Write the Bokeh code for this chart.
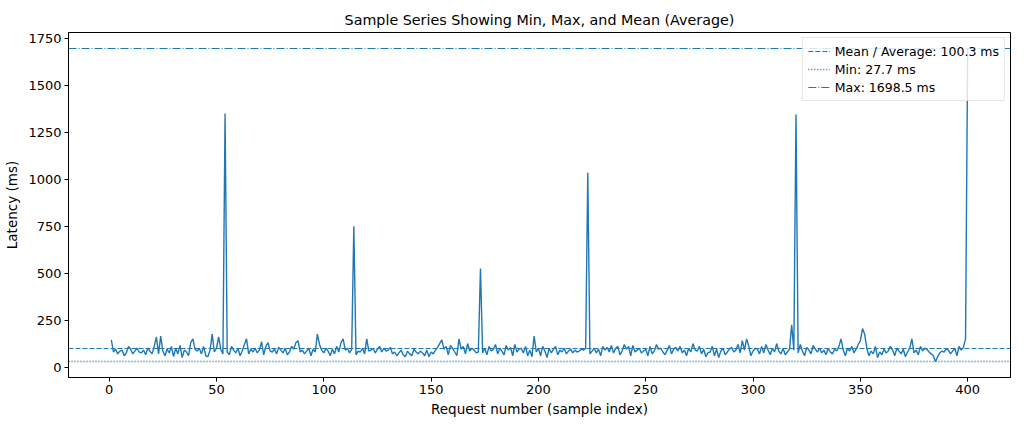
import numpy as np
from bokeh.plotting import figure
from bokeh.models import Range1d, FixedTicker
from bokeh.embed import file_html
from bokeh.resources import INLINE

latency_ms = [
    145, 80, 95, 70, 85, 90, 60, 75, 110, 95, 70, 85, 100, 80, 75, 90, 65, 100, 85, 70,
    110, 160, 70, 165, 85, 60, 95, 75, 110, 55, 100, 70, 115, 50, 90, 80, 60, 130, 150, 95,
    85, 100, 70, 110, 60, 55, 90, 175, 80, 100, 160, 95, 70, 1350, 80, 65, 110, 90, 75, 100,
    60, 85, 120, 150, 70, 95, 80, 100, 75, 90, 135, 65, 110, 130, 85, 80, 95, 70, 105, 90,
    75, 100, 65, 80, 110, 95, 130, 140, 80, 90, 70, 85, 100, 60, 95, 80, 175, 120, 90, 75,
    100, 85, 60, 95, 70, 110, 80, 130, 150, 90, 100, 75, 95, 750, 65, 85, 80, 100, 70, 150,
    85, 90, 100, 75, 95, 110, 80, 100, 85, 90, 105, 70, 80, 60, 75, 90, 65, 55, 85, 70,
    60, 95, 80, 70, 85, 75, 60, 90, 55, 80, 70, 90, 105, 125, 145, 95, 110, 65, 115, 100,
    80, 60, 150, 95, 110, 70, 125, 85, 100, 90, 75, 80, 525, 75, 100, 65, 110, 85, 95, 120,
    70, 100, 85, 65, 115, 90, 105, 60, 120, 80, 95, 100, 75, 110, 60, 90, 55, 165, 80, 100,
    60, 110, 85, 50, 100, 75, 95, 110, 65, 90, 80, 100, 70, 85, 95, 75, 90, 80, 85, 95,
    90, 100, 1035, 70, 85, 100, 75, 95, 60, 110, 90, 105, 80, 115, 75, 100, 110, 65, 85, 120,
    95, 110, 60, 115, 80, 90, 100, 75, 85, 95, 60, 110, 70, 85, 120, 95, 100, 80, 65, 90,
    115, 70, 95, 105, 85, 110, 75, 90, 60, 100, 80, 125, 90, 85, 110, 70, 95, 55, 75, 80,
    110, 60, 95, 50, 85, 100, 65, 80, 95, 105, 80, 90, 120, 75, 140, 90, 150, 110, 60, 85,
    100, 95, 70, 110, 75, 120, 90, 65, 100, 80, 125, 85, 70, 100, 65, 80, 95, 225, 90, 1345,
    75, 120, 85, 60, 105, 90, 70, 115, 95, 80, 100, 75, 90, 65, 100, 80, 70, 95, 85, 110,
    150, 90, 60, 100, 85, 110, 75, 95, 120, 140, 205, 175, 100, 60, 85, 70, 110, 50, 80, 65,
    95, 75, 85, 110, 90, 60, 100, 85, 70, 95, 55, 80, 100, 150, 75, 90, 65, 110, 85, 100,
    95, 80, 70, 60, 27.7, 55, 75, 85, 80, 95, 90, 70, 85, 100, 60, 110, 90, 105, 150, 1698.5,
]
sample_index = list(range(1, len(latency_ms) + 1))

mean_ms = [100.3]
min_ms = [27.7]
max_ms = [1698.5]

x_ticks = [0, 50, 100, 150, 200, 250, 300, 350, 400]
y_ticks = [0, 250, 500, 750, 1000, 1250, 1500, 1750]

COLOR = "#1f77b4"
FONT = "DejaVu Sans"

xs = np.array(sample_index, dtype=float)
ys = np.array(latency_ms, dtype=float)
xpad = (xs.max() - xs.min()) * 0.05
ypad = (ys.max() - ys.min()) * 0.05

p = figure(width=1016, height=419, output_backend="svg", toolbar_location=None,
           title="Sample Series Showing Min, Max, and Mean (Average)",
           x_range=Range1d(xs.min() - xpad, xs.max() + xpad),
           y_range=Range1d(ys.min() - ypad, ys.max() + ypad),
           min_border_left=68, min_border_right=6, min_border_top=32, min_border_bottom=42)

p.line(sample_index, latency_ms, line_color=COLOR, line_width=1.4)
p.hspan(y=mean_ms, line_color=COLOR, line_width=1.1, line_dash="5 2", legend_label="Mean / Average: 100.3 ms")
p.hspan(y=min_ms, line_color=COLOR, line_width=1.3, line_dash="1 2", legend_label="Min: 27.7 ms")
p.hspan(y=max_ms, line_color=COLOR, line_width=1.1, line_dash="8 2 1 2", legend_label="Max: 1698.5 ms")

p.title.align = "center"
p.title.text_font = FONT
p.title.text_font_size = "14.3px"
p.title.text_font_style = "normal"
p.title.text_color = "black"

p.xgrid.visible = False
p.ygrid.visible = False
p.outline_line_color = "black"
p.outline_line_width = 1

p.xaxis.ticker = FixedTicker(ticks=x_ticks)
p.yaxis.ticker = FixedTicker(ticks=y_ticks)
p.xaxis.axis_label = "Request number (sample index)"
p.yaxis.axis_label = "Latency (ms)"
for ax in (p.xaxis, p.yaxis):
    ax.axis_label_text_font = FONT
    ax.axis_label_text_font_size = "13.5px"
    ax.axis_label_text_font_style = "normal"
    ax.axis_label_text_color = "black"
    ax.major_label_text_font = FONT
    ax.major_label_text_font_size = "13px"
    ax.major_label_text_color = "black"
    ax.axis_line_color = "black"
    ax.major_tick_line_color = "black"
    ax.major_tick_out = 4
    ax.major_tick_in = 0
    ax.minor_tick_line_color = None
    ax.major_label_standoff = 3
p.xaxis.axis_label_standoff = 4
p.yaxis.axis_label_standoff = 5

p.legend.location = "top_right"
p.legend.label_text_font = FONT
p.legend.label_text_font_size = "12.5px"
p.legend.label_text_color = "black"
p.legend.label_height = 16
p.legend.glyph_height = 16
p.legend.glyph_width = 22
p.legend.spacing = 2
p.legend.padding = 5
p.legend.margin = 5
p.legend.border_line_color = "#cccccc"
p.legend.background_fill_alpha = 0.8

open("out.html", "w").write(file_html(p, INLINE))
